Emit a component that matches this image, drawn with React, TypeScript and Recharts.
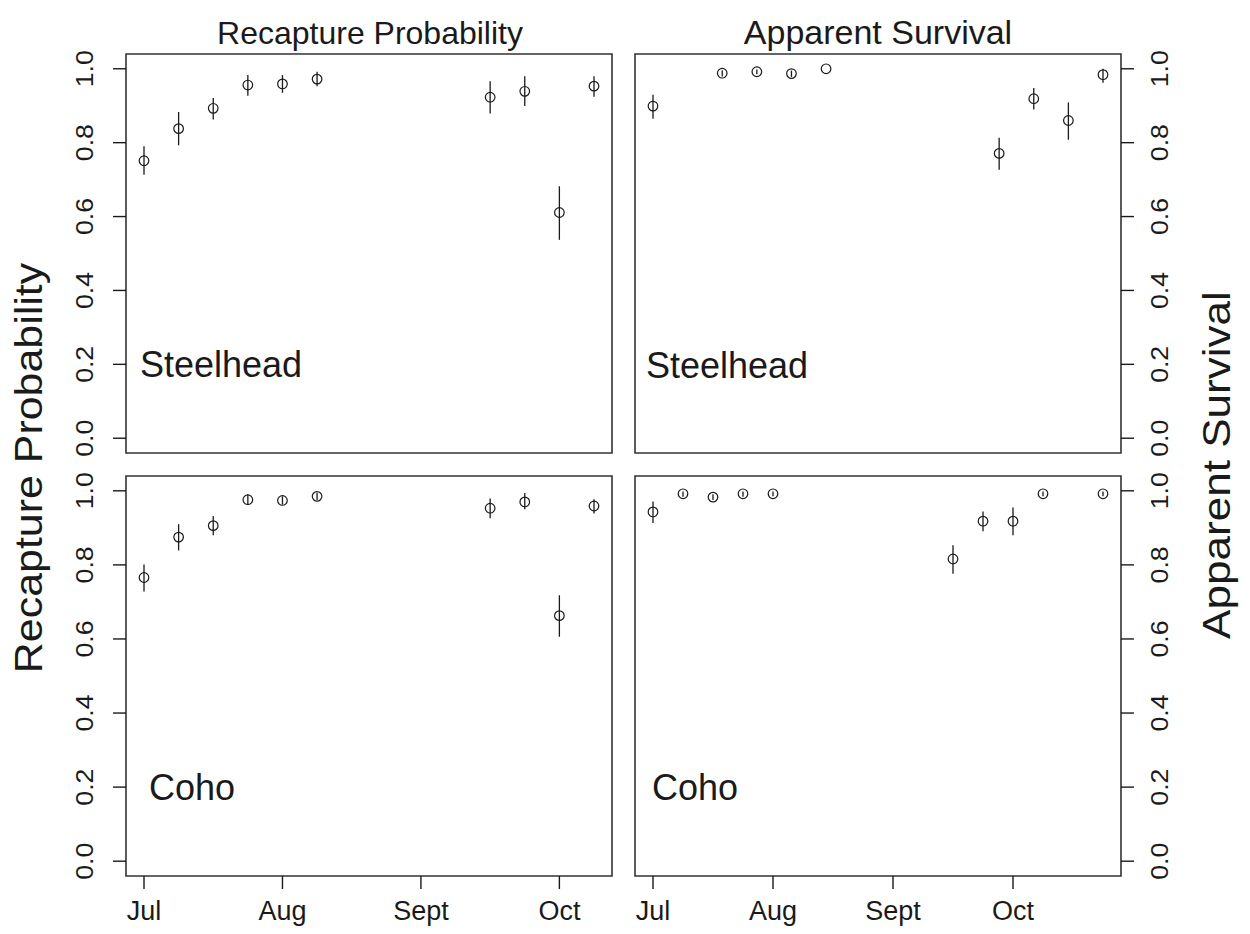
import { ScatterChart, Scatter, XAxis, YAxis, ErrorBar, ReferenceArea } from "recharts";

// week index since start of July; ticks every 4 weeks
const monthTicks = [0, 4, 8, 12];
const monthLabels = ["Jul", "Aug", "Sept", "Oct"];
const probTicks = [0, 0.2, 0.4, 0.6, 0.8, 1.0];

// Recapture probability, steelhead
const recapWeeks = [0, 1, 2, 3, 4, 5, 10, 11, 12, 13];
const steelRecap = [0.751, 0.838, 0.893, 0.956, 0.959, 0.972, 0.923, 0.939, 0.611, 0.953];
const steelRecapLo = [0.713, 0.793, 0.863, 0.927, 0.935, 0.953, 0.879, 0.899, 0.537, 0.924];
const steelRecapHi = [0.79, 0.883, 0.921, 0.983, 0.983, 0.992, 0.966, 0.98, 0.682, 0.98];

// Recapture probability, coho
const cohoRecap = [0.766, 0.875, 0.906, 0.976, 0.974, 0.985, 0.953, 0.97, 0.663, 0.959];
const cohoRecapLo = [0.728, 0.839, 0.88, 0.962, 0.963, 0.975, 0.926, 0.95, 0.606, 0.939];
const cohoRecapHi = [0.801, 0.91, 0.932, 0.99, 0.985, 0.995, 0.979, 0.994, 0.718, 0.977];

// Apparent survival, steelhead
const steelSurvWeeks = [0, 2, 3, 4, 5, 10, 11, 12, 13];
const steelSurv = [0.899, 0.988, 0.992, 0.987, 1.0, 0.771, 0.919, 0.86, 0.984];
const steelSurvLo = [0.865, 0.979, 0.985, 0.978, 1.0, 0.727, 0.89, 0.808, 0.962];
const steelSurvHi = [0.93, 0.996, 0.998, 0.995, 1.0, 0.813, 0.948, 0.909, 1.0];

// Apparent survival, coho
const cohoSurvWeeks = [0, 1, 2, 3, 4, 10, 11, 12, 13, 15];
const cohoSurv = [0.943, 0.992, 0.983, 0.992, 0.992, 0.816, 0.918, 0.918, 0.992, 0.992];
const cohoSurvLo = [0.913, 0.984, 0.975, 0.984, 0.985, 0.776, 0.891, 0.88, 0.985, 0.985];
const cohoSurvHi = [0.971, 0.998, 0.991, 0.998, 0.998, 0.853, 0.944, 0.955, 0.998, 0.998];

const FONT = "'Liberation Sans', Arial, Helvetica, sans-serif";
const INK = "#1a1a1a";
const Y_PAD = 0.04;

function build(weeks: number[], est: number[], lo: number[], hi: number[]) {
  return weeks.map((w, i) => ({
    x: w,
    y: est[i],
    err: [est[i] - lo[i], hi[i] - est[i]],
  }));
}

const OpenCircle = (p: any) => (
  <circle cx={p.cx} cy={p.cy} r={4.8} fill="none" stroke={INK} strokeWidth={1.2} />
);

// rotated tick labels, read bottom to top, slightly stretched like the original
const YTick = (p: any) => {
  const { x, y, payload } = p;
  return (
    <text
      x={0}
      y={0}
      transform={`translate(${x}, ${y}) rotate(-90) scale(1.16, 1)`}
      textAnchor="middle"
      fontSize={23}
      fontFamily={FONT}
      fill={INK}
    >
      {payload.value.toFixed(1)}
    </text>
  );
};

const XTick = (p: any) => {
  const { x, y, payload } = p;
  const i = monthTicks.indexOf(payload.value);
  return (
    <text x={x} y={y + 31} textAnchor="middle" fontSize={27} fontFamily={FONT} fill={INK}>
      {monthLabels[i]}
    </text>
  );
};

interface PanelProps {
  data: { x: number; y: number; err: number[] }[];
  xMax: number;
  side: "left" | "right";
  bottom: boolean;
  left: number;
  top: number;
}

function Panel({ data, xMax, side, bottom, left, top }: PanelProps) {
  const pad = xMax * 0.04;
  const height = bottom ? 474 : 480;
  return (
    <div style={{ position: "absolute", left, top }}>
      <ScatterChart
        width={620}
        height={height}
        margin={
          side === "left"
            ? { top: bottom ? 16 : 54, right: 8, bottom: 0, left: 0 }
            : { top: bottom ? 16 : 54, right: 0, bottom: 0, left: 15 }
        }
      >
        <XAxis
          type="number"
          dataKey="x"
          domain={[-pad, xMax + pad]}
          ticks={monthTicks}
          interval={0}
          allowDataOverflow
          axisLine={false}
          tickSize={13}
          tickMargin={0}
          tickLine={{ stroke: INK, strokeWidth: 1.4 }}
          tick={bottom ? XTick : false}
          height={bottom ? 58 : 27}
        />
        <YAxis
          type="number"
          dataKey="y"
          orientation={side}
          domain={[-Y_PAD, 1 + Y_PAD]}
          ticks={probTicks}
          interval={0}
          allowDataOverflow
          axisLine={false}
          tickSize={13}
          tickMargin={side === "left" ? 20 : 34}
          tickLine={{ stroke: INK, strokeWidth: 1.4 }}
          tick={YTick}
          width={side === "left" ? 126 : 119}
        />
        <ReferenceArea
          x1={-pad}
          x2={xMax + pad}
          y1={-Y_PAD}
          y2={1 + Y_PAD}
          ifOverflow="visible"
          fill="#fff"
          fillOpacity={0}
          stroke="#333"
          strokeWidth={1.6}
        />
        <Scatter data={data} shape={OpenCircle} isAnimationActive={false}>
          <ErrorBar
            dataKey="err"
            direction="y"
            width={0}
            stroke={INK}
            strokeWidth={1.3}
            isAnimationActive={false}
          />
        </Scatter>
      </ScatterChart>
    </div>
  );
}

export default function App() {
  return (
    <div
      style={{
        position: "absolute",
        left: 0,
        top: 0,
        width: 1250,
        height: 934,
        background: "#fff",
        fontFamily: FONT,
      }}
    >
      <Panel data={build(recapWeeks, steelRecap, steelRecapLo, steelRecapHi)} xMax={13} side="left" bottom={false} left={0} top={0} />
      <Panel data={build(steelSurvWeeks, steelSurv, steelSurvLo, steelSurvHi)} xMax={13} side="right" bottom={false} left={620} top={0} />
      <Panel data={build(recapWeeks, cohoRecap, cohoRecapLo, cohoRecapHi)} xMax={13} side="left" bottom={true} left={0} top={460} />
      <Panel data={build(cohoSurvWeeks, cohoSurv, cohoSurvLo, cohoSurvHi)} xMax={15} side="right" bottom={true} left={620} top={460} />

      <svg
        width={1250}
        height={934}
        style={{ position: "absolute", left: 0, top: 0, pointerEvents: "none" }}
        fontFamily={FONT}
        fill={INK}
      >
        <text x={370} y={44} fontSize={32} textAnchor="middle">Recapture Probability</text>
        <text x={878} y={44} fontSize={34} textAnchor="middle">Apparent Survival</text>
        <text x={0} y={0} fontSize={38} textAnchor="middle" transform="translate(42, 468) rotate(-90) scale(1.13, 1)">
          Recapture Probability
        </text>
        <text x={0} y={0} fontSize={39} textAnchor="middle" transform="translate(1230, 465) rotate(-90) scale(1.13, 1)">
          Apparent Survival
        </text>
        <text x={140} y={377} fontSize={36}>Steelhead</text>
        <text x={646} y={378} fontSize={36}>Steelhead</text>
        <text x={149} y={800} fontSize={36}>Coho</text>
        <text x={652} y={800} fontSize={36}>Coho</text>
      </svg>
    </div>
  );
}
